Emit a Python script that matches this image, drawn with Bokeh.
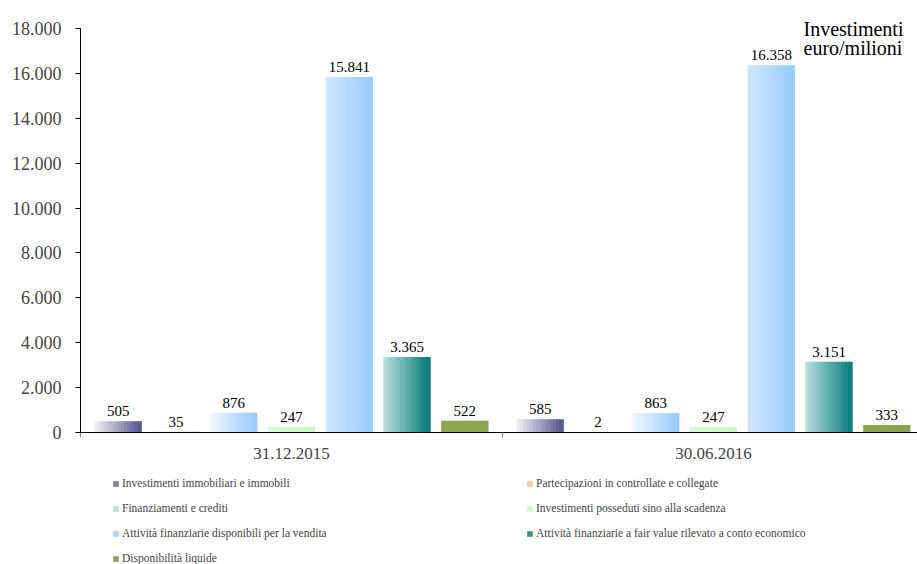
import numpy as np
from bokeh.plotting import figure
from bokeh.layouts import column
from bokeh.models import ColumnDataSource, FixedTicker, Legend, LegendItem, Label, Range1d
from bokeh.core.properties import value
from bokeh.embed import file_html
from bokeh.resources import INLINE

# ---------------- data ----------------
categories = ["31.12.2015", "30.06.2016"]
series_names = [
    "Investimenti immobiliari e immobili",
    "Partecipazioni in controllate e collegate",
    "Finanziamenti e crediti",
    "Investimenti posseduti sino alla scadenza",
    "Attività finanziarie disponibili per la vendita",
    "Attività finanziarie a fair value rilevato a conto economico",
    "Disponibilità liquide",
]
v_immobili = [505, 585]
v_partecipazioni = [35, 2]
v_finanziamenti = [876, 863]
v_scadenza = [247, 247]
v_disponibili = [15841, 16358]
v_fair_value = [3365, 3151]
v_liquide = [522, 333]
y_ticks = [0, 2000, 4000, 6000, 8000, 10000, 12000, 14000, 16000, 18000]
y_tick_labels = ["0", "2.000", "4.000", "6.000", "8.000", "10.000", "12.000", "14.000", "16.000", "18.000"]
chart_title = ["Investimenti", "euro/milioni"]

values = [v_immobili, v_partecipazioni, v_finanziamenti, v_scadenza,
          v_disponibili, v_fair_value, v_liquide]

# ---------------- style ----------------
gradients = [
    ("#ededf3", "#5a5a92"),
    ("#fbe6d2", "#f3b585"),
    ("#eef6ff", "#99ccff"),
    ("#d4fdd4", "#c8fac8"),
    ("#cfe6ff", "#99ccff"),
    ("#b4dcdc", "#0c7e7e"),
    ("#8ba64f", "#8ba64f"),
]
legend_colors = ["#8080a8", "#f5c8a0", "#b8dcff", "#ccfacc", "#a8d2ff", "#3a9090", "#8ba64f"]
STEP = 0.1369
WIDTH = 0.109
NSTRIP = 14
FONT = "'Liberation Serif'"
X_END = 1.4834   # plot area is slightly cut at the right edge, as in the original
Y_TOP = 19247    # frame extends above the 18.000 tick to leave room for the title


def hex2rgb(h):
    h = h.lstrip("#")
    return np.array([int(h[i:i + 2], 16) for i in (0, 2, 4)], dtype=float)


def rgb2hex(c):
    return "#%02x%02x%02x" % tuple(int(round(x)) for x in c)


p = figure(width=917, height=470, output_backend="svg", toolbar_location=None,
           x_range=Range1d(-0.5, X_END), y_range=Range1d(0, Y_TOP),
           min_border_left=80, min_border_right=0, min_border_top=0,
           min_border_bottom=38)
p.outline_line_color = None
p.xgrid.visible = False
p.ygrid.visible = False
p.background_fill_color = "white"
p.border_fill_color = "white"

for s, vals in enumerate(values):
    c0, c1 = hex2rgb(gradients[s][0]), hex2rgb(gradients[s][1])
    xs, tops, cols = [], [], []
    sw = WIDTH / NSTRIP
    for g, v in enumerate(vals):
        center = g + (s - 3) * STEP
        left = center - WIDTH / 2
        for k in range(NSTRIP):
            t = k / (NSTRIP - 1)
            xs.append(left + (k + 0.5) * sw)
            tops.append(v)
            cols.append(rgb2hex(c0 + (c1 - c0) * t))
    src = ColumnDataSource(dict(x=xs, top=tops, color=cols))
    p.vbar(x="x", top="top", bottom=0, width=sw * 1.4, fill_color="color",
           line_color=None, source=src)

    lab_src = ColumnDataSource(dict(
        x=[g + (s - 3) * STEP for g in range(len(vals))],
        y=vals,
        t=[f"{v:,}".replace(",", ".") for v in vals]))
    p.text(x="x", y="y", text="t", source=lab_src, text_align="center",
           text_baseline="bottom", y_offset=-5, text_font=value(FONT),
           text_font_size="15px", text_color="black")

# axes
p.yaxis.ticker = FixedTicker(ticks=y_ticks)
p.yaxis.bounds = (y_ticks[0], y_ticks[-1])
p.yaxis.major_label_overrides = {t: l for t, l in zip(y_ticks, y_tick_labels)}
p.yaxis.major_label_text_font = FONT
p.yaxis.major_label_text_font_size = "18px"
p.yaxis.major_tick_in = 0
p.yaxis.major_tick_out = 5
p.yaxis.minor_tick_line_color = None
p.yaxis.axis_line_color = "black"
p.yaxis.major_label_standoff = 14

p.xaxis.ticker = FixedTicker(ticks=[0, 1], minor_ticks=[-0.5, 0.5, 1.5])
p.xaxis.major_label_overrides = {0: categories[0], 1: categories[1]}
p.xaxis.major_label_text_font = FONT
p.xaxis.major_label_text_font_size = "17px"
p.xaxis.major_tick_in = 0
p.xaxis.major_tick_out = 0
p.xaxis.minor_tick_in = 0
p.xaxis.minor_tick_out = 5
p.xaxis.minor_tick_line_color = "#888888"
p.xaxis.major_label_standoff = 10
p.xaxis.axis_line_color = "black"

# title (screen units are frame-relative, measured from the frame bottom)
for i, line in enumerate(chart_title):
    p.add_layout(Label(x=723, y=404 - i * 19, x_units="screen", y_units="screen",
                       text=line, text_font=FONT, text_font_size="20px",
                       text_baseline="alphabetic", text_align="left", text_color="black"))

# legend strip below the chart
pl = figure(width=917, height=94, output_backend="svg", toolbar_location=None,
            x_range=Range1d(0, 1), y_range=Range1d(0, 1),
            x_axis_type=None, y_axis_type=None,
            min_border_left=80, min_border_right=0, min_border_top=0,
            min_border_bottom=0)
pl.outline_line_color = None
pl.xgrid.visible = False
pl.ygrid.visible = False
items = []
for name, col in zip(series_names, legend_colors):
    r = pl.vbar(x=[-1], top=[0], width=0.01, fill_color=col, line_color=None)
    items.append(LegendItem(label=name, renderers=[r]))
leg = Legend(items=items, location=(32, 0), orientation="horizontal", ncols=2,
             glyph_width=7, glyph_height=7, label_height=12, label_width=391,
             spacing=13, padding=0, margin=0, label_standoff=3,
             label_text_font=FONT, label_text_font_size="11.5px",
             border_line_color=None, background_fill_alpha=0)
pl.add_layout(leg, "center")

layout = column(p, pl, spacing=0)
open("out.html", "w").write(file_html(layout, INLINE))
